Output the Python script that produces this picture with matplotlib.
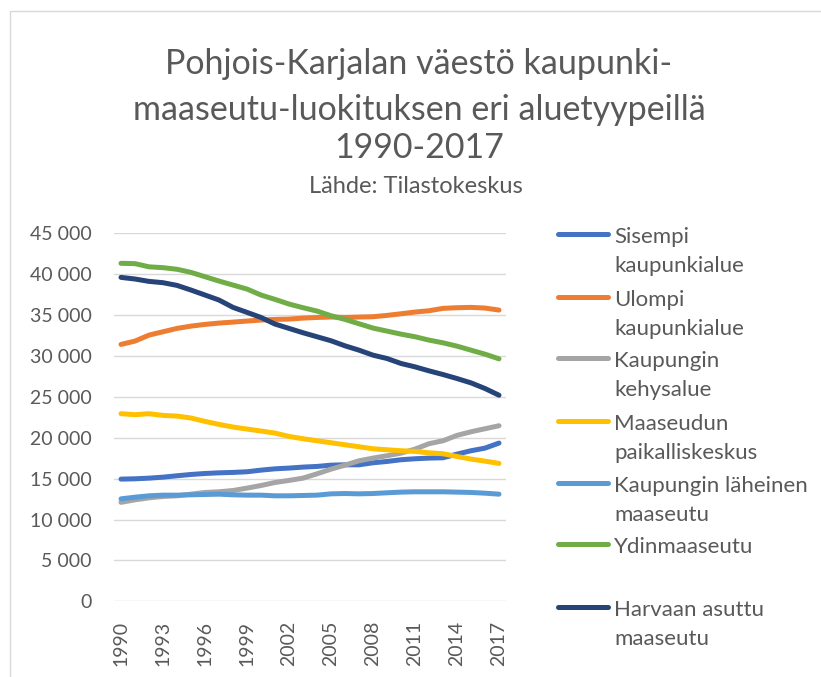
import matplotlib
matplotlib.use("Agg")
import matplotlib.pyplot as plt
from matplotlib.lines import Line2D
from matplotlib.patches import Rectangle

years = list(range(1990, 2018))

sisempi = [14940, 14980, 15060, 15180, 15350, 15510, 15630, 15710, 15760, 15840,
           16040, 16200, 16290, 16410, 16490, 16650, 16690, 16690, 16940, 17100,
           17310, 17430, 17510, 17550, 18000, 18410, 18730, 19350]
ulompi = [31410, 31820, 32550, 32960, 33370, 33650, 33860, 34020, 34140, 34270,
          34390, 34470, 34510, 34630, 34710, 34760, 34710, 34760, 34800, 34960,
          35160, 35370, 35530, 35820, 35900, 35940, 35860, 35610]
kehys = [12100, 12410, 12650, 12820, 12900, 13100, 13310, 13390, 13550, 13840,
         14160, 14530, 14780, 15060, 15590, 16160, 16650, 17180, 17510, 17800,
         18120, 18610, 19270, 19630, 20290, 20730, 21100, 21470]
paikallis = [22940, 22820, 22940, 22730, 22650, 22410, 22000, 21630, 21310, 21060,
             20820, 20570, 20160, 19880, 19630, 19390, 19140, 18900, 18650, 18530,
             18410, 18330, 18160, 18040, 17710, 17390, 17140, 16860]
laheinen = [12530, 12730, 12900, 12980, 12980, 13020, 13060, 13100, 13020, 12980,
            12980, 12900, 12900, 12940, 12980, 13140, 13180, 13140, 13180, 13270,
            13350, 13390, 13390, 13390, 13350, 13310, 13220, 13100]
ydin = [41330, 41290, 40900, 40800, 40600, 40220, 39690, 39160, 38670, 38180,
        37450, 36920, 36350, 35900, 35490, 34920, 34470, 33940, 33410, 33040,
        32670, 32350, 31940, 31610, 31200, 30710, 30220, 29650]
harva = [39610, 39410, 39120, 38960, 38630, 38060, 37450, 36840, 35940, 35330,
         34710, 33900, 33370, 32840, 32350, 31860, 31240, 30710, 30100, 29690,
         29080, 28670, 28180, 27730, 27240, 26710, 26020, 25200]

series = [
    (["Sisempi", "kaupunkialue"], sisempi, "#4472C4"),
    (["Ulompi", "kaupunkialue"], ulompi, "#ED7D31"),
    (["Kaupungin", "kehysalue"], kehys, "#A5A5A5"),
    (["Maaseudun", "paikalliskeskus"], paikallis, "#FFC000"),
    (["Kaupungin läheinen", "maaseutu"], laheinen, "#5B9BD5"),
    (["Ydinmaaseutu"], ydin, "#70AD47"),
    (["Harvaan asuttu", "maaseutu"], harva, "#264478"),
]

yticks = list(range(0, 45001, 5000))
ytick_labels = ["0", "5 000", "10 000", "15 000", "20 000", "25 000",
                "30 000", "35 000", "40 000", "45 000"]
xticks = list(range(1990, 2018, 3))

title_lines = ["Pohjois-Karjalan väestö kaupunki-",
               "maaseutu-luokituksen eri aluetyypeillä",
               "1990-2017"]
subtitle = "Lähde: Tilastokeskus"

W, H = 821, 677
FONT = "Lato"
TXT = "#595959"
plt.rcParams['font.family'] = [FONT, 'DejaVu Sans']

fig = plt.figure(figsize=(W / 100, H / 100), dpi=100)
fig.patch.set_facecolor("white")

def fx(px):
    return px / W

def fy(py):
    return 1 - py / H

# chart border
fig.add_artist(Rectangle((fx(10), fy(700)), fx(900), fy(11) - fy(700),
                         transform=fig.transFigure, fill=False,
                         edgecolor="#D9D9D9", linewidth=1.0))

left, right, top, bottom = 114, 506, 233.3, 601.3
ax = fig.add_axes([fx(left), fy(bottom), fx(right - left), fy(top) - fy(bottom)])

for labels, vals, col in series:
    ax.plot(years, vals, color=col, linewidth=3.6, solid_capstyle="round",
            solid_joinstyle="round", zorder=3)

ax.set_xlim(1989.5, 2017.5)
ax.set_ylim(0, 45000)
ax.set_yticks(yticks)
ax.set_yticklabels(ytick_labels)
ax.set_xticks(xticks)
ax.set_xticklabels([str(x) for x in xticks], rotation=90)
ax.yaxis.grid(True, color="#D9D9D9", linewidth=1.0)
ax.set_axisbelow(True)
for s in ax.spines.values():
    s.set_visible(False)
ax.tick_params(axis="both", length=0, labelsize=14, colors=TXT)
ax.tick_params(axis="y", pad=16)
ax.tick_params(axis="x", pad=14)

# title
for txt, py in zip(title_lines, [74, 120, 158]):
    fig.text(fx(419), fy(py), txt, ha="center", va="baseline",
             fontsize=24.5, color=TXT)
fig.text(fx(416), fy(193), subtitle, ha="center", va="baseline",
         fontsize=17, color=TXT)

# legend
handle_y = [234, 297, 358, 421, 483, 544, 607]
for (labels, vals, col), hy in zip(series, handle_y):
    fig.add_artist(Line2D([fx(558), fx(608)], [fy(hy), fy(hy)],
                          transform=fig.transFigure, color=col,
                          linewidth=3.6, solid_capstyle="round"))
    for i, line in enumerate(labels):
        fig.text(fx(614), fy(hy + 9 + i * 29), line, ha="left",
                 va="baseline", fontsize=16, color=TXT)

fig.savefig("out.png", dpi=100)
